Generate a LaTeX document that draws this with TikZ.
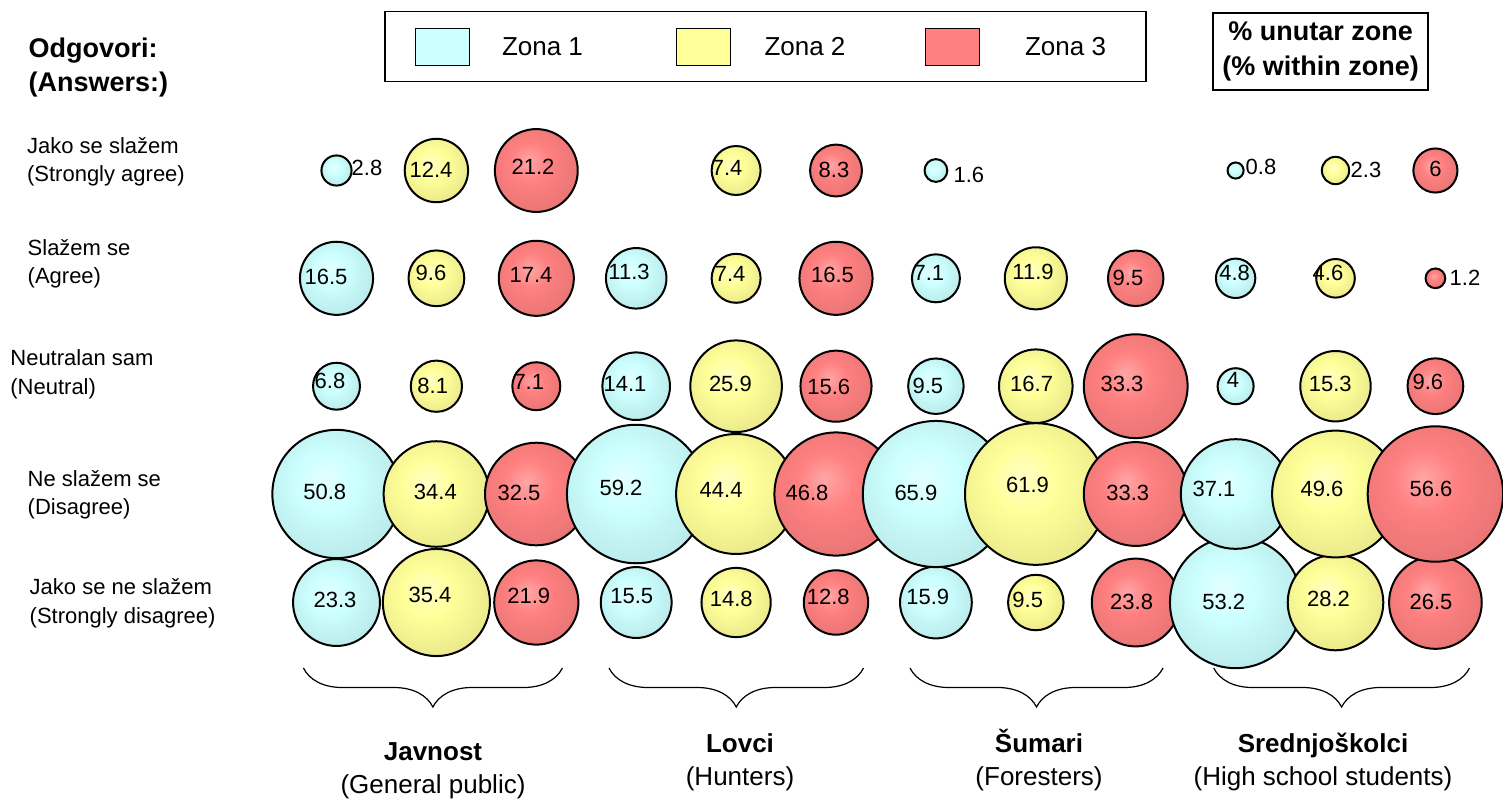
\documentclass[tikz,border=0pt]{standalone}
\usepackage{fontspec}
\setmainfont{Liberation Sans}
\usetikzlibrary{decorations.pathreplacing}

\definecolor{zoneone}{RGB}{204,255,255}
\definecolor{zonetwo}{RGB}{255,255,153}
\definecolor{zonethree}{RGB}{255,128,128}

\pgfdeclareradialshading{ballone}{\pgfpoint{-5bp}{6bp}}{color(0bp)=(zoneone!55!white); color(12bp)=(zoneone); color(32bp)=(zoneone!90!black); color(50bp)=(zoneone!73!black); color(60bp)=(zoneone!66!black)}
\pgfdeclareradialshading{balltwo}{\pgfpoint{-5bp}{6bp}}{color(0bp)=(zonetwo!55!white); color(12bp)=(zonetwo); color(32bp)=(zonetwo!90!black); color(50bp)=(zonetwo!75!black); color(60bp)=(zonetwo!68!black)}
\pgfdeclareradialshading{ballthree}{\pgfpoint{-5bp}{6bp}}{color(0bp)=(zonethree!70!white); color(12bp)=(zonethree); color(32bp)=(zonethree!90!black); color(50bp)=(zonethree!76!black); color(60bp)=(zonethree!70!black)}

\begin{document}
\begin{tikzpicture}[x=0.5pt,y=-0.5pt,
    bubble/.style={circle,draw,line width=1pt,inner sep=0pt,outer sep=0pt},
    z0/.style={bubble,shading=ballone},
    z1/.style={bubble,shading=balltwo},
    z2/.style={bubble,shading=ballthree},
    val/.style={inner sep=0pt,font=\fontsize{11}{13}\selectfont},
    answer/.style={anchor=west,align=left,inner sep=0pt,font=\fontsize{11}{14.2}\selectfont},
    key/.style={draw,line width=0.5pt,minimum width=27pt,minimum height=18.5pt,inner sep=0pt},
    legtxt/.style={inner sep=0pt,font=\fontsize{13}{15}\selectfont},
    grp/.style={align=center,inner sep=0pt,font=\fontsize{13}{16.4}\selectfont},
    grpbrace/.style={decorate,decoration={brace,mirror,amplitude=19.5pt},line width=0.6pt}]

  \fill[white] (0,0) rectangle (1503,804);
  \useasboundingbox (0,0) rectangle (1503,804);

  % headings and legend
  \node[answer,font=\bfseries\fontsize{13.5}{17.2}\selectfont] (head) at (28.3,67.5) {Odgovori:\\(Answers:)};
  \node[draw,line width=0.6pt,minimum width=380.5pt,minimum height=35pt] (legend) at (765.5,46.7) {};
  \node[key,fill=zoneone]   (k1) at (442,46.7) {};
  \node[key,fill=zonetwo]   (k2) at (703.5,46.7) {};
  \node[key,fill=zonethree] (k3) at (952,46.7) {};
  \node[legtxt] (t1) at (542.5,47) {Zona 1};
  \node[legtxt] (t2) at (805,47) {Zona 2};
  \node[legtxt] (t3) at (1065.5,47) {Zona 3};
  \node[draw,line width=0.8pt,minimum width=107.5pt,minimum height=38.5pt,align=center,inner sep=0pt,
        font=\bfseries\fontsize{13.5}{17.5}\selectfont] (within) at (1320.7,51.7) {\% unutar zone\\(\% within zone)};

  % answers
  \node[answer] (r1) at (26.7,161.8) {Jako se slažem\\(Strongly agree)};
  \node[answer] (r2) at (27.3,263.5) {Slažem se\\(Agree)};
  \node[answer] (r3) at (10,374.3)   {Neutralan sam\\(Neutral)};
  \node[answer] (r4) at (27.3,495)   {Ne slažem se\\(Disagree)};
  \node[answer] (r5) at (29.3,603.3) {Jako se ne slažem\\(Strongly disagree)};

  % bubbles: column/value/label shift
  \foreach \k/\v/\dx/\dy in {0/2.8/30.5/-3, 1/12.4/-5.4/-0.5, 2/21.2/-3.3/-4, 4/7.4/-9/-2.5,
      5/8.3/-2/-0.5, 6/1.6/33/4.5, 9/0.8/25.4/-4, 10/2.3/30.5/-0.5, 11/6/0/-2}{
    \pgfmathsetmacro\d{9*sqrt(\v)}
    \pgfmathtruncatemacro\z{mod(\k,3)}
    \node[z\z,minimum size=\d pt] (a\k) at (336.5+99.9*\k,170.5) {};
    \node[val] (va\k) at ([shift={(\dx,\dy)}]a\k.center) {\v};
  }
  \foreach \k/\v/\dx/\dy in {0/16.5/-10.5/-1.6, 1/9.6/-5.4/-5.3, 2/17.4/-5.3/-3.3, 3/11.3/-7.2/-6.6,
      4/7.4/-6/-4.3, 5/16.5/-3.5/-3.3, 6/7.1/-7/-5, 7/11.9/-2.8/-6.6, 8/9.5/-7.7/0,
      9/4.8/-1/-5, 10/4.6/-7.5/-5, 11/1.2/29.6/0}{
    \pgfmathsetmacro\d{9*sqrt(\v)}
    \pgfmathtruncatemacro\z{mod(\k,3)}
    \node[z\z,minimum size=\d pt] (b\k) at (336.5+99.9*\k,278.3) {};
    \node[val] (vb\k) at ([shift={(\dx,\dy)}]b\k.center) {\v};
  }
  \foreach \k/\v/\dx/\dy in {0/6.8/-6.5/-5.2, 1/8.1/-3.7/0, 2/7.1/-7.5/-4.5, 3/14.1/-11.2/-2,
      4/25.9/-5.7/-2, 5/15.6/-7.2/0.5, 6/9.5/-8/-0.5, 7/16.7/-4.2/-2, 8/33.3/-13.7/-2,
      9/4/-2.6/-6.2, 10/15.3/-5.2/-2, 11/9.6/-7.6/-4}{
    \pgfmathsetmacro\d{9*sqrt(\v)}
    \pgfmathtruncatemacro\z{mod(\k,3)}
    \node[z\z,minimum size=\d pt] (c\k) at (336.5+99.9*\k,386.2) {};
    \node[val] (vc\k) at ([shift={(\dx,\dy)}]c\k.center) {\v};
  }
  \foreach \k/\v/\dx/\dy in {0/23.3/-1.5/-2.5, 1/35.4/-6.4/-7.5, 2/21.9/-7.6/-6.5, 3/15.5/-4.5/-6.5,
      4/14.8/-4.8/-3.2, 5/12.8/-7.7/-5.8, 6/15.9/-8.2/-5.8, 7/9.5/-8.1/-2.5, 8/23.8/-4.1/-0.8,
      9/53.2/-11.8/-0.8, 10/28.2/-7/-3.2, 11/26.5/-4.4/-0.8}{
    \pgfmathsetmacro\d{9*sqrt(\v)}
    \pgfmathtruncatemacro\z{mod(\k,3)}
    \node[z\z,minimum size=\d pt] (e\k) at (336.5+99.9*\k,602.5) {};
    \node[val] (ve\k) at ([shift={(\dx,\dy)}]e\k.center) {\v};
  }
  \foreach \k/\v/\dx/\dy in {0/50.8/-11.8/-2.3, 1/34.4/-1/-2.3, 2/32.5/-17.3/-0.7, 3/59.2/-15.2/-5.7,
      4/44.4/-15/-4, 5/46.8/-29/-0.7, 6/65.9/-20/-0.7, 7/61.9/-8.3/-9, 8/33.3/-8/-0.7,
      9/37.1/-21.6/-5, 10/49.6/-13.5/-5, 11/56.6/-4.4/-5}{
    \pgfmathsetmacro\d{9*sqrt(\v)}
    \pgfmathtruncatemacro\z{mod(\k,3)}
    \node[z\z,minimum size=\d pt] (d\k) at (336.5+99.9*\k,494) {};
    \node[val] (vd\k) at ([shift={(\dx,\dy)}]d\k.center) {\v};
  }

  % groups
  \coordinate (g1l) at (303.4,668);  \coordinate (g1r) at (562.4,668);
  \coordinate (g2l) at (609,668);    \coordinate (g2r) at (863.5,668);
  \coordinate (g3l) at (910,668);    \coordinate (g3r) at (1163,668);
  \coordinate (g4l) at (1213.7,668); \coordinate (g4r) at (1469.5,668);
  \draw[grpbrace] (g1l) -- (g1r);
  \draw[grpbrace] (g2l) -- (g2r);
  \draw[grpbrace] (g3l) -- (g3r);
  \draw[grpbrace] (g4l) -- (g4r);

  \node[grp] (javnost) at (433,771) {\textbf{Javnost}\\(General public)};
  \node[grp] (lovci)   at (740,762) {\textbf{Lovci}\\(Hunters)};
  \node[grp] (sumari)  at (1039,760) {\textbf{Šumari}\\(Foresters)};
  \node[grp] (skolci)  at (1323,762) {\textbf{Srednjoškolci}\\(High school students)};
\end{tikzpicture}
\end{document}
